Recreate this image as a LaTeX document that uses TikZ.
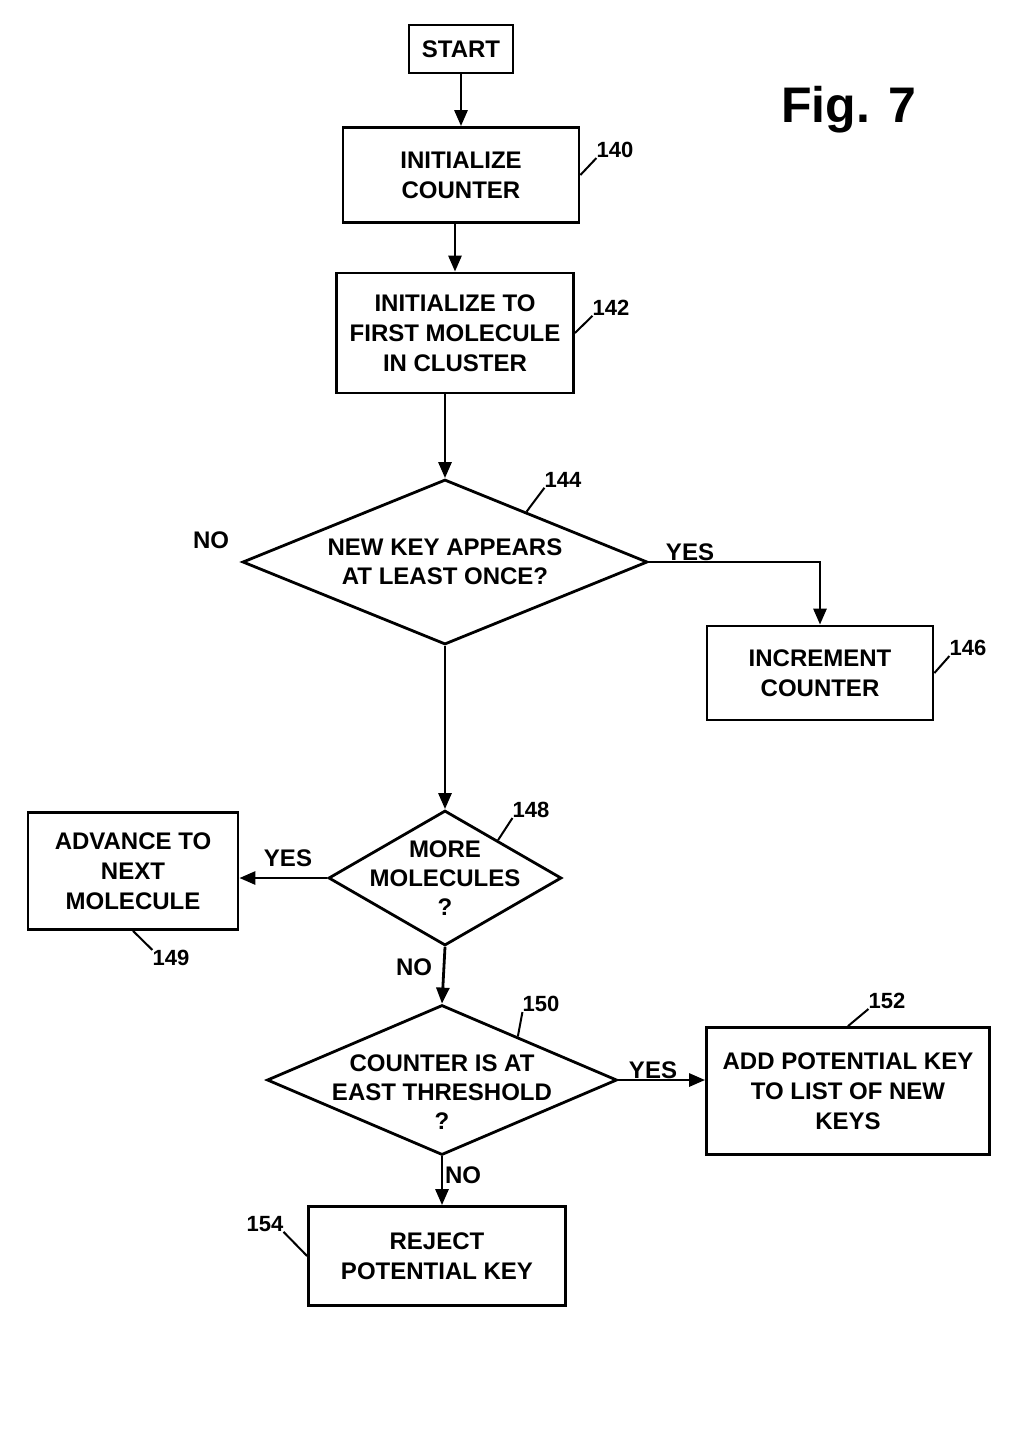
\documentclass[tikz,border=0pt]{standalone}
\usepackage{fontspec}
\setmainfont{Liberation Sans}
\usetikzlibrary{arrows.meta,shapes.geometric,calc}
\tikzset{
  stepbox/.style={draw, line width=2.8pt, align=center, inner sep=0pt,
    font=\bfseries\fontsize{24}{30}\selectfont},
  decision/.style={draw, diamond, line width=2.8pt, inner sep=0pt, aspect=2},
  dtext/.style={align=center, inner sep=0pt, font=\bfseries\fontsize{24}{29}\selectfont},
  arr/.style={line width=2.8pt, -{Triangle[length=16pt,width=13pt]}},
  conn/.style={line width=2.8pt},
  lead/.style={line width=2pt},
  refnum/.style={inner sep=0pt, font=\bfseries\fontsize{22}{24}\selectfont},
  yn/.style={inner sep=0pt, font=\bfseries\fontsize{24}{28}\selectfont}
}
\begin{document}
\begin{tikzpicture}[x=1pt,y=-1pt]
\useasboundingbox[fill=white] (0,0) rectangle (1021,1436);

% boxes
\node[stepbox, minimum width=104pt, minimum height=48pt] (start) at (461,49) {START};
\node[stepbox, minimum width=236pt, minimum height=95pt] (n140) at (461,175) {INITIALIZE\\COUNTER};
\node[stepbox, minimum width=237pt, minimum height=120pt] (n142) at (455,333) {INITIALIZE TO\\FIRST MOLECULE\\IN CLUSTER};
\node[decision, minimum width=405pt, minimum height=165pt] (d144) at (445,562) {};
\node[dtext] (t144) at (d144.center) {NEW KEY APPEARS\\AT LEAST ONCE?};
\node[stepbox, minimum width=226pt, minimum height=94pt] (n146) at (820,673) {INCREMENT\\COUNTER};
\node[decision, minimum width=233pt, minimum height=135pt] (d148) at (445,878) {};
\node[dtext] (t148) at (d148.center) {MORE\\MOLECULES\\?};
\node[stepbox, minimum width=210pt, minimum height=117pt] (n149) at (133,871) {ADVANCE TO\\NEXT\\MOLECULE};
\node[decision, minimum width=350pt, minimum height=150pt] (d150) at (442,1080) {};
\node[dtext] (t150) at ($(d150.center)+(0,12)$) {COUNTER IS AT\\EAST THRESHOLD\\?};
\node[stepbox, minimum width=283pt, minimum height=127pt] (n152) at (848,1091) {ADD POTENTIAL KEY\\TO LIST OF NEW\\KEYS};
\node[stepbox, minimum width=257pt, minimum height=99pt] (n154) at (437,1256) {REJECT\\POTENTIAL KEY};

% figure title
\node[inner sep=0pt, font=\bfseries\fontsize{50}{56}\selectfont] (fig) at (849,110) {Fig. 7};

% connectors
\draw[arr] (start.south) -- (start.south |- n140.north);
\draw[arr] (n142.north |- n140.south) -- (n142.north);
\draw[arr] (d144.north |- n142.south) -- (d144.north);
\draw[arr] (d144.east) -| (n146.north);
\draw[arr] (d144.south) -- (d148.north);
\draw[arr] (d148.west) -- (d148.west -| n149.east);
\draw[arr] (d148.south) -- (d150.north);
\draw[arr] (d150.east) -- (d150.east -| n152.west);
\draw[arr] (d150.south) -- (d150.south |- n154.north);

% branch labels
\node[yn] (no144) at (211,540) {NO};
\node[yn] (yes144) at (690,552) {YES};
\node[yn] (yes148) at (288,858) {YES};
\node[yn] (no148) at (414,967) {NO};
\node[yn] (yes150) at (653,1070) {YES};
\node[yn] (no150) at (463,1175) {NO};

% reference numbers
\node[refnum] (l140) at (615,150) {140};
\node[refnum] (l142) at (611,308) {142};
\node[refnum] (l144) at (563,480) {144};
\node[refnum] (l146) at (968,648) {146};
\node[refnum] (l148) at (531,810) {148};
\node[refnum] (l149) at (171,958) {149};
\node[refnum] (l150) at (541,1004) {150};
\node[refnum] (l152) at (887,1001) {152};
\node[refnum] (l154) at (265,1224) {154};

\draw[lead] (n140.east) -- (l140.south west);
\draw[lead] (n142.east) -- (l142.south west);
\draw[lead] ($(d144.north)!0.4!(d144.east)$) -- (l144.south west);
\draw[lead] (n146.east) -- (l146.south west);
\draw[lead] ($(d148.north)!0.45!(d148.east)$) -- (l148.south west);
\draw[lead] (n149.south) -- (l149.north west);
\draw[lead] ($(d150.north)!0.43!(d150.east)$) -- (l150.south west);
\draw[lead] (n152.north) -- (l152.south west);
\draw[lead] (l154.south east) -- (n154.west);
\end{tikzpicture}
\end{document}
